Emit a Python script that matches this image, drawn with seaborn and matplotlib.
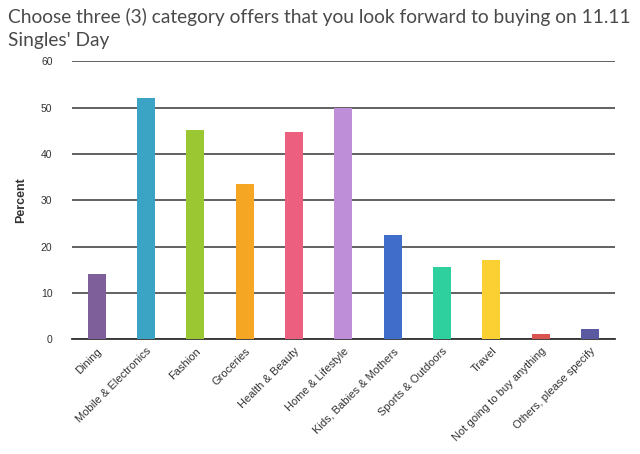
import matplotlib
matplotlib.use("Agg")
import matplotlib.pyplot as plt
import seaborn as sns
import pandas as pd

# ==================== data ====================
categories = ["Dining", "Mobile & Electronics", "Fashion", "Groceries", "Health & Beauty",
              "Home & Lifestyle", "Kids, Babies & Mothers", "Sports & Outdoors", "Travel",
              "Not going to buy anything", "Others, please specify"]
percent = [14.0, 52.0, 45.1, 33.5, 44.7, 49.9, 22.4, 15.5, 17.0, 1.1, 2.2]
colors = ["#7f5f9a", "#3ba3c4", "#9bc832", "#f5a623", "#ed5f7e", "#bf8ed8",
          "#3f6dc9", "#2ed09e", "#fbd033", "#d9534f", "#5b5aa0"]

df = pd.DataFrame({"category": categories, "percent": percent})

# ==================== plot ====================
sns.set_style("white")
plt.rcParams['font.family'] = ['Liberation Sans', 'DejaVu Sans']

fig = plt.figure(figsize=(6.4, 4.54), dpi=100)
ax = fig.add_axes([0.1125, 0.253, 0.848, 0.612])

sns.barplot(data=df, x="category", y="percent", hue="category", palette=colors,
            legend=False, width=0.36, saturation=1, linewidth=0, ax=ax, zorder=3)

ax.set_ylim(0, 60)
ax.set_yticks(range(0, 61, 10))
ax.set_xlim(-0.5, len(categories) - 0.5)
ax.yaxis.grid(True, color="#555555", linewidth=1.3, zorder=0)
ax.set_axisbelow(True)
for s in ["top", "right", "left"]:
    ax.spines[s].set_visible(False)
ax.spines["bottom"].set_color("#333333")
ax.spines["bottom"].set_linewidth(1.3)

ax.tick_params(axis="y", length=0, labelsize=7.5, colors="#333333", pad=14)
ax.tick_params(axis="x", length=0, labelsize=8, colors="#333333", pad=5)
ax.set_xticks(range(len(categories)))
ax.set_xticklabels(categories, rotation=45, ha="right", rotation_mode="anchor")
ax.set_xticks([i + 0.5 for i in range(-1, len(categories))], minor=True)
ax.tick_params(axis="x", which="minor", length=6, color="#dddddd", width=0.8)

ax.set_xlabel("")
ax.set_ylabel("Percent", fontsize=9, fontweight="bold", color="#333333", labelpad=10)

fig.text(0.012, 0.983, "Choose three (3) category offers that you look forward to buying on 11.11\nSingles' Day",
         fontsize=13.8, family=["Lato", "DejaVu Sans"], color="#4a4a4a", va="top", ha="left",
         linespacing=1.45)

plt.savefig("out.png", dpi=100)
